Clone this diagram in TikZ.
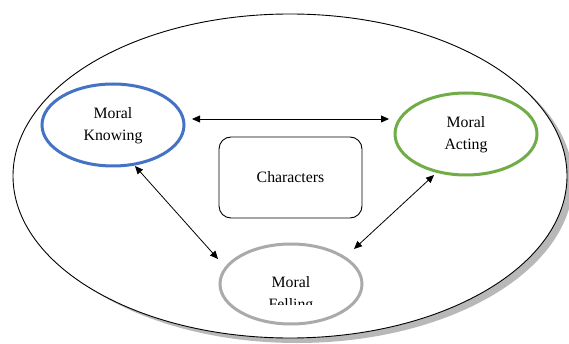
\documentclass[tikz,border=0pt]{standalone}
\usepackage{fontspec}
\setmainfont{Liberation Serif}
\usetikzlibrary{arrows.meta}
\begin{document}
\begin{tikzpicture}[x=1pt,y=-1pt,
  txt/.style={font=\fontsize{15.8}{22}\selectfont, align=center},
  ring/.style={line width=3pt},
  link/.style={{Triangle[length=8pt,width=7pt]}-{Triangle[length=8pt,width=7pt]}, line width=0.8pt}]
\useasboundingbox (0,0) rectangle (569,344);
% big ellipse with shadow
\fill[black!28] (297,181) ellipse [x radius=276, y radius=162];
\draw[fill=white, line width=0.9pt] (290,176) ellipse [x radius=277, y radius=162];
% circles
\draw[ring, draw={rgb,255:red,68;green,114;blue,196}] (113,125) ellipse [x radius=71, y radius=41];
\draw[ring, draw={rgb,255:red,112;green,173;blue,71}] (466,134) ellipse [x radius=71, y radius=41];
\draw[ring, draw={rgb,255:red,170;green,170;blue,170}] (291,284) ellipse [x radius=71, y radius=40];
\coordinate (kn) at (113,125);
\coordinate (ac) at (466,134);
\coordinate (fe) at (291,284);
% texts
\node[txt] (tkn) at (113,126) {Moral\\Knowing};
\node[txt] (tac) at (466,135) {Moral\\Acting};
\node[draw, rounded corners=12pt, line width=0.9pt, minimum width=143pt, minimum height=81pt, txt] (ch) at (290.5,177.5) {Characters};
\begin{scope}
\clip (200,260) rectangle (380,304);
\node[txt] (tfe) at (291,295) {Moral\\Felling};
\end{scope}
% arrow endpoints
\coordinate (a1) at (192,119);
\coordinate (a2) at (389,119);
\coordinate (b1) at (135,166);
\coordinate (b2) at (218,259);
\coordinate (c1) at (434,175);
\coordinate (c2) at (354,249);
\draw[link] (a1) -- (a2);
\draw[link] (b1) -- (b2);
\draw[link] (c1) -- (c2);
\end{tikzpicture}
\end{document}
